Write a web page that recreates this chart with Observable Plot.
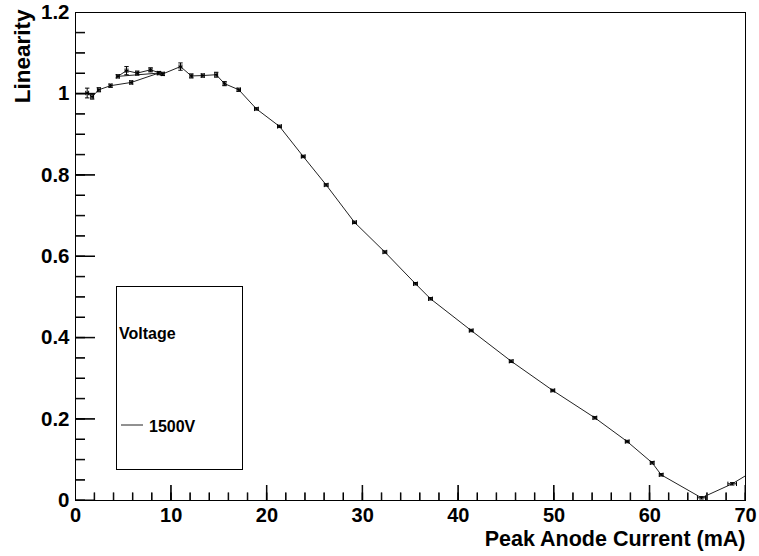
<!DOCTYPE html>
<html>
<head>
<meta charset="utf-8">
<script src="https://cdn.jsdelivr.net/npm/d3@7"></script>
<script src="https://cdn.jsdelivr.net/npm/@observablehq/plot@0.6"></script>
<style>
  html, body { margin: 0; padding: 0; background: #fff; }
</style>
</head>
<body>
<div id="chart"></div>
<script>
// ---- data ----
const current = [1.22, 1.74, 2.44, 3.66, 5.82, 8.70, 4.42, 5.33, 6.45, 7.84, 9.12, 10.97, 12.1, 13.3, 14.7, 15.57, 17.06, 18.9, 21.31, 23.79, 26.19, 29.15, 32.32, 35.52, 37.09, 41.34, 45.52, 49.87, 54.26, 57.64, 60.25, 61.19, 65.4, 68.61, 71.0];
const linearity = [1.002, 0.993, 1.010, 1.020, 1.028, 1.051, 1.043, 1.057, 1.051, 1.059, 1.049, 1.067, 1.044, 1.045, 1.047, 1.025, 1.010, 0.963, 0.920, 0.846, 0.776, 0.684, 0.611, 0.533, 0.496, 0.418, 0.3425, 0.2705, 0.2033, 0.145, 0.0927, 0.0632, 0.0066, 0.041, 0.075];
const currentErr = [0.15, 0.15, 0.15, 0.15, 0.15, 0.15, 0.15, 0.15, 0.15, 0.15, 0.15, 0.15, 0.15, 0.15, 0.15, 0.15, 0.18, 0.2, 0.2, 0.2, 0.2, 0.2, 0.2, 0.2, 0.2, 0.2, 0.2, 0.2, 0.2, 0.2, 0.2, 0.2, 0.42, 0.45, 0.45];
const linearityErr = [0.012, 0.006, 0.005, 0.004, 0.004, 0.004, 0.004, 0.010, 0.005, 0.005, 0.004, 0.009, 0.005, 0.004, 0.006, 0.005, 0.004, 0.003, 0.003, 0.003, 0.003, 0.003, 0.003, 0.003, 0.003, 0.003, 0.003, 0.003, 0.003, 0.003, 0.003, 0.003, 0.003, 0.003, 0.003];

const xMajorTicks = [0, 10, 20, 30, 40, 50, 60, 70];
const xMinorTicks = [0, 2, 4, 6, 8, 10, 12, 14, 16, 18, 20, 22, 24, 26, 28, 30, 32, 34, 36, 38, 40, 42, 44, 46, 48, 50, 52, 54, 56, 58, 60, 62, 64, 66, 68, 70];
const yMajorTicks = [0, 0.2, 0.4, 0.6, 0.8, 1, 1.2];
const yMinorTicks = [0, 0.05, 0.1, 0.15, 0.2, 0.25, 0.3, 0.35, 0.4, 0.45, 0.5, 0.55, 0.6, 0.65, 0.7, 0.75, 0.8, 0.85, 0.9, 0.95, 1, 1.05, 1.1, 1.15, 1.2];
const xTickLabels = ["0", "10", "20", "30", "40", "50", "60", "70"];
const yTickLabels = ["0", "0.2", "0.4", "0.6", "0.8", "1", "1.2"];

const xTitle = "Peak Anode Current (mA)";
const yTitle = "Linearity";
const legendTitle = "Voltage";
const legendEntry = "1500V";

const data = current.map((x, i) => ({x, y: linearity[i], ex: currentErr[i], ey: linearityErr[i]}));

// ---- layout ----
const W = 759, H = 556;
const mL = 75, mR = 14, mT = 12, mB = 56;
const plotW = W - mL - mR, plotH = H - mT - mB;
const xDom = [0, 70], yDom = [0, 1.2];
const pxX = (xDom[1] - xDom[0]) / plotW;   // one pixel in x data units
const pxY = (yDom[1] - yDom[0]) / plotH;   // one pixel in y data units
const xTickRows = [...xMinorTicks.map(v => ({v, len: 7.5 * pxY})), ...xMajorTicks.map(v => ({v, len: 15 * pxY}))];
const yTickRows = [...yMinorTicks.map(v => ({v, len: 10 * pxX})), ...yMajorTicks.map(v => ({v, len: 20 * pxX}))];

const hcap = {draw(ctx, size) { const r = Math.sqrt(size / Math.PI); ctx.moveTo(-r, 0); ctx.lineTo(r, 0); }};
const vcap = {draw(ctx, size) { const r = Math.sqrt(size / Math.PI); ctx.moveTo(0, -r); ctx.lineTo(0, r); }};

const font = "'Liberation Sans', Arial, Helvetica, sans-serif";
const lineColor = "#222";

const chart = Plot.plot({
  width: W, height: H,
  marginLeft: mL, marginRight: mR, marginTop: mT, marginBottom: mB,
  x: {domain: xDom, axis: null},
  y: {domain: yDom, axis: null},
  style: {fontFamily: font, background: "white", color: "black"},
  marks: [
    // inward ticks as thin filled rectangles (and rules), clipped to the frame
    Plot.rect(xTickRows, {x1: d => d.v - 0.5 * pxX, x2: d => d.v + 0.5 * pxX, y1: () => 0, y2: d => d.len, fill: "#000", clip: true, inset: 0}),
    Plot.rect(yTickRows, {y1: d => d.v - 0.5 * pxY, y2: d => d.v + 0.5 * pxY, x1: () => 0, x2: d => d.len, fill: "#000", clip: true, inset: 0}),
    Plot.ruleX(xTickRows, {x: "v", y1: () => 0, y2: d => d.len, stroke: "#000", strokeWidth: 1, clip: true}),
    Plot.ruleY(yTickRows, {y: "v", x1: () => 0, x2: d => d.len, stroke: "#000", strokeWidth: 1, clip: true}),
    Plot.frame({stroke: "#000", strokeWidth: 1, fill: "none"}),
    // tick labels
    Plot.text(xMajorTicks, {x: d => d, y: () => 0, text: (d, i) => xTickLabels[i], dy: 15, fontSize: 20, fontWeight: "bold", fill: "#000"}),
    Plot.text(yMajorTicks, {x: () => 0, y: d => d, text: (d, i) => yTickLabels[i], dx: -6, textAnchor: "end", fontSize: 20.5, fontWeight: "bold", fill: "#000"}),
    // axis titles
    Plot.text([xTitle], {frameAnchor: "bottom-right", text: d => d, dy: 45, textAnchor: "end", lineAnchor: "bottom", fontSize: 21.5, fontWeight: "bold", fill: "#000"}),
    Plot.text([yTitle], {frameAnchor: "top-left", text: d => d, dx: -53, dy: -3, rotate: -90, textAnchor: "end", lineAnchor: "middle", fontSize: 22.5, fontWeight: "bold", fill: "#000"}),
    // data line
    Plot.line(data, {x: "x", y: "y", stroke: lineColor, strokeWidth: 1, clip: true}),
    // error bars
    Plot.link(data, {x1: "x", x2: "x", y1: d => d.y - d.ey, y2: d => d.y + d.ey, stroke: "#000", strokeWidth: 1, clip: true}),
    Plot.link(data, {x1: d => d.x - d.ex, x2: d => d.x + d.ex, y1: "y", y2: "y", stroke: "#000", strokeWidth: 1, clip: true}),
    Plot.dot(data, {x: "x", y: d => d.y + d.ey, symbol: hcap, r: 2.2, stroke: "#000", strokeWidth: 1, fill: "none", clip: true}),
    Plot.dot(data, {x: "x", y: d => d.y - d.ey, symbol: hcap, r: 2.2, stroke: "#000", strokeWidth: 1, fill: "none", clip: true}),
    Plot.dot(data, {x: d => d.x + d.ex, y: "y", symbol: vcap, r: 2.2, stroke: "#000", strokeWidth: 1, fill: "none", clip: true}),
    Plot.dot(data, {x: d => d.x - d.ex, y: "y", symbol: vcap, r: 2.2, stroke: "#000", strokeWidth: 1, fill: "none", clip: true}),
    Plot.dot(data, {x: "x", y: "y", r: 1, fill: "#000", stroke: "none", clip: true})
  ]
});

// ---- legend box (ROOT TLegend style) ----
const svg = d3.select(chart);
const lg = svg.append("g").attr("font-family", font).attr("font-weight", "bold").attr("text-anchor", "start");
lg.append("rect").attr("x", 116.5).attr("y", 286.5).attr("width", 126).attr("height", 183)
  .attr("fill", "white").attr("stroke", "#000").attr("stroke-width", 1);
lg.append("text").attr("x", 119).attr("y", 339).attr("font-size", 16).attr("fill", "#000").attr("text-anchor", "start").text(legendTitle);
lg.append("line").attr("x1", 121).attr("x2", 143).attr("y1", 425).attr("y2", 425).attr("stroke", lineColor).attr("stroke-width", 1);
lg.append("text").attr("x", 149).attr("y", 432).attr("font-size", 16).attr("fill", "#000").attr("text-anchor", "start").text(legendEntry);

document.getElementById("chart").appendChild(chart);
</script>
</body>
</html>
